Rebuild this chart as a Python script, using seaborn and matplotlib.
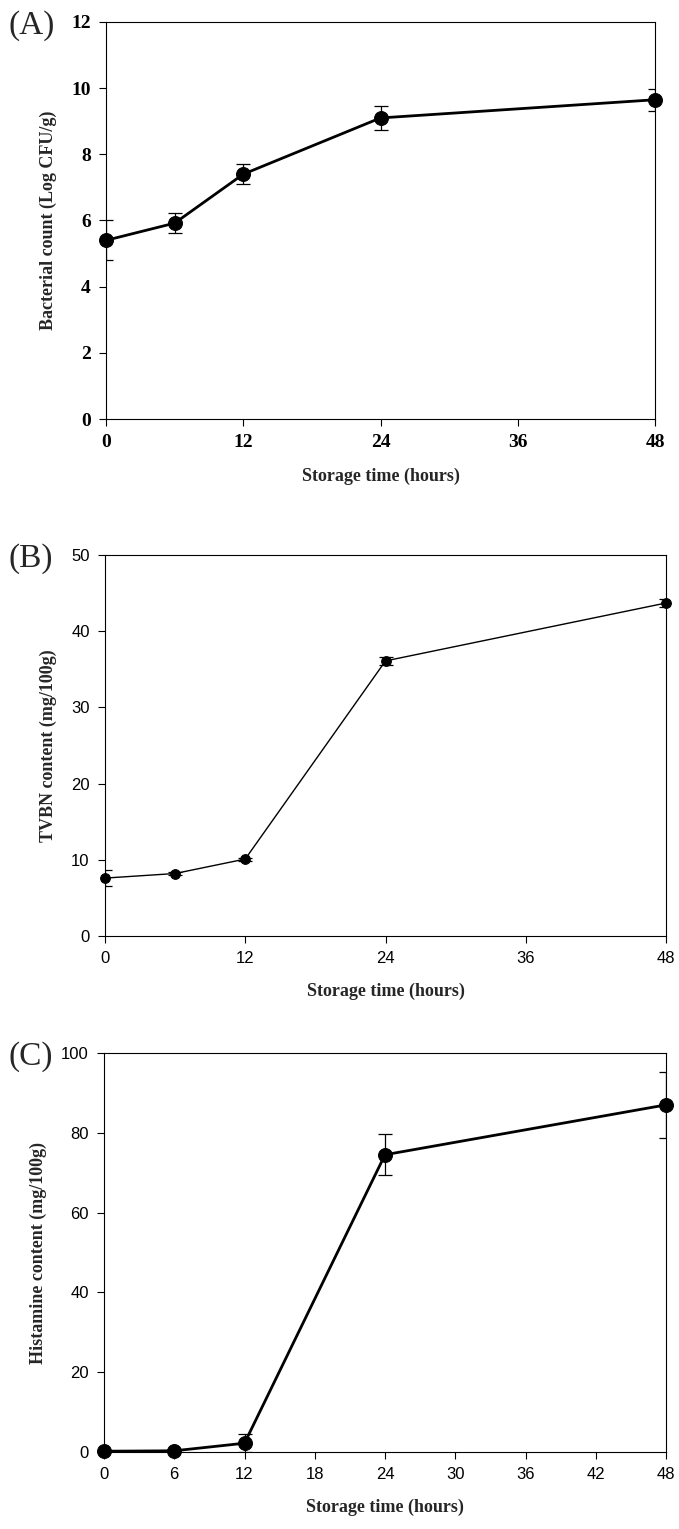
import matplotlib
matplotlib.use("Agg")
import matplotlib.pyplot as plt
import seaborn as sns
import numpy as np
import pandas as pd

# ---- data ----
hours = [0, 6, 12, 24, 48]
bacteria = [5.4, 5.92, 7.4, 9.1, 9.65]
bacteria_err = [0.6, 0.3, 0.3, 0.35, 0.33]
tvbn = [7.6, 8.2, 10.1, 36.1, 43.7]
tvbn_err = [1.1, 0.2, 0.2, 0.5, 0.5]
histamine = [0.2, 0.3, 2.2, 74.5, 87.0]
histamine_err = [0.3, 0.4, 2.3, 5.2, 8.2]

xlabel = "Storage time (hours)"
ylabel_a = "Bacterial count (Log CFU/g)"
ylabel_b = "TVBN content (mg/100g)"
ylabel_c = "Histamine content (mg/100g)"

sns.set_theme(style="ticks")
plt.rcParams['font.family'] = ['Liberation Serif', 'DejaVu Serif']

W, H = 679, 1529
fig = plt.figure(figsize=(W / 100, H / 100), dpi=100)

def px_axes(l, r, t, b):
    return fig.add_axes([l / W, 1 - b / H, (r - l) / W, (b - t) / H])

serif_bold = dict(family=['Liberation Serif', 'DejaVu Serif'], weight='bold')
narrow = dict(family=['Liberation Sans Narrow', 'Liberation Sans', 'DejaVu Sans'])

panels = [
    dict(rect=(106, 655, 22, 419), y=bacteria, e=bacteria_err, ylim=(0, 12), yt=np.arange(0, 13, 2),
         xt=[0, 12, 24, 36, 48], lw=2.0, ms=10, lab="(A)", ylab=ylabel_a, tickfont=serif_bold, tfs=14, capw=5),
    dict(rect=(105, 666, 555, 936), y=tvbn, e=tvbn_err, ylim=(0, 50), yt=np.arange(0, 51, 10),
         xt=[0, 12, 24, 36, 48], lw=1.0, ms=7, lab="(B)", ylab=ylabel_b, tickfont=narrow, tfs=12, capw=5),
    dict(rect=(104, 666, 1053, 1452), y=histamine, e=histamine_err, ylim=(0, 100), yt=np.arange(0, 101, 20),
         xt=list(range(0, 49, 6)), lw=2.0, ms=10, lab="(C)", ylab=ylabel_c, tickfont=narrow, tfs=12, capw=5),
]

for p in panels:
    l, r, t, b = p["rect"]
    ax = px_axes(l, r, t, b)
    df = pd.DataFrame({"h": hours, "v": p["y"]})
    ax.errorbar(hours, p["y"], yerr=p["e"], fmt='none', ecolor='black', elinewidth=0.9,
                capsize=p["capw"], capthick=0.9, zorder=2)
    sns.lineplot(data=df, x="h", y="v", ax=ax, color='black', linewidth=p["lw"],
                 marker='o', markersize=p["ms"], markeredgecolor='black',
                 markerfacecolor='black', zorder=3, clip_on=False)
    ax.set_xlim(0, 48)
    ax.set_ylim(*p["ylim"])
    ax.set_xticks(p["xt"])
    ax.set_yticks(p["yt"])
    ax.set_xticklabels([str(v) for v in p["xt"]], fontsize=p["tfs"], **p["tickfont"])
    ax.set_yticklabels([str(int(v)) for v in p["yt"]], fontsize=p["tfs"], **p["tickfont"])
    ax.tick_params(direction='out', length=5, width=0.8, colors='black', pad=6)
    for s in ax.spines.values():
        s.set_visible(True)
        s.set_linewidth(0.8)
        s.set_color('black')
    ax.set_xlabel(xlabel, fontsize=13, labelpad=12, **serif_bold)
    ax.set_ylabel(p["ylab"], fontsize=13, labelpad=10, **serif_bold)
    fig.text(8 / W, 1 - (t + 4) / H, p["lab"], fontsize=24, va='center', ha='left',
             family=['Liberation Serif', 'DejaVu Serif'])

fig.savefig("out.png", dpi=100, facecolor='white')
